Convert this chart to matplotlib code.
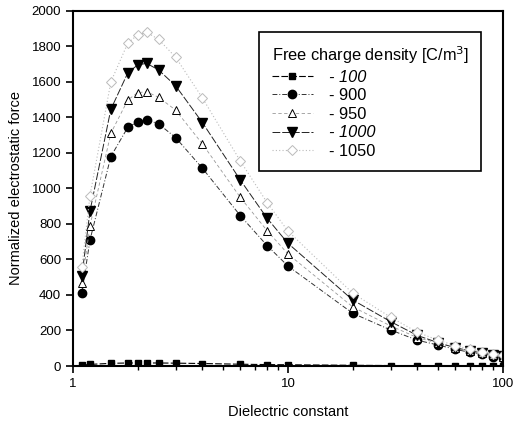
import matplotlib
matplotlib.use("Agg")
import matplotlib.pyplot as plt
from matplotlib.ticker import LogLocator, NullFormatter

plt.rcParams['font.family'] = ['Liberation Sans', 'DejaVu Sans']

eps = [1.1, 1.2, 1.5, 1.8, 2.0, 2.2, 2.5, 3, 4, 6, 8, 10, 20, 30, 40, 50, 60, 70, 80, 90, 100]
f100 = [5, 9, 15, 17, 17, 17, 17, 16, 14, 10, 8, 7, 4, 2.5, 2, 1.5, 1.2, 1, 0.8, 0.7, 0.6]
f900 = [413, 710, 1180, 1345, 1375, 1388, 1364, 1287, 1114, 847, 678, 563, 297, 203, 145, 118, 94, 77, 66, 53, 45]
f950 = [466, 790, 1311, 1499, 1540, 1545, 1514, 1442, 1251, 950, 762, 631, 333, 226, 160, 128, 104, 86, 73, 60, 50]
f1000 = [507, 873, 1446, 1652, 1696, 1705, 1668, 1579, 1371, 1048, 832, 691, 372, 250, 172, 131, 103, 86, 73, 62, 55]
f1050 = [560, 960, 1600, 1820, 1865, 1880, 1840, 1740, 1510, 1155, 920, 760, 410, 275, 190, 145, 115, 95, 80, 68, 60]
labels = ['- 100', '- 900', '- 950', '- 1000', '- 1050']
italic_labels = {'- 100', '- 1000'}

fig = plt.figure(figsize=(5.15, 4.22), dpi=100)
ax = fig.add_axes([0.1417, 0.1327, 0.8350, 0.8413])

ax.plot(eps, f100, color='black', ls=(0, (6, 2)), lw=0.8, marker='s', ms=5,
        mfc='black', mec='black', label=labels[0])
ax.plot(eps, f900, color='#333333', ls=(0, (5, 2, 1, 2)), lw=0.7, marker='o', ms=6,
        mfc='black', mec='black', label=labels[1])
ax.plot(eps, f950, color='#999999', ls=(0, (4, 3)), lw=0.6, marker='^', ms=6,
        mfc='white', mec='black', mew=0.7, label=labels[2])
ax.plot(eps, f1000, color='#222222', ls=(0, (8, 2)), lw=0.7, marker='v', ms=7,
        mfc='black', mec='black', label=labels[3])
ax.plot(eps, f1050, color='#bbbbbb', ls=(0, (1, 2)), lw=0.8, marker='D', ms=5,
        mfc='white', mec='#bbbbbb', mew=0.7, label=labels[4])

ax.set_xscale('log')
ax.set_xlim(1, 100)
ax.set_ylim(0, 2000)
ax.set_xticks([1, 10, 100])
ax.set_xticklabels(['1', '10', '100'])
ax.xaxis.set_minor_locator(LogLocator(base=10, subs=range(2, 10)))
ax.xaxis.set_minor_formatter(NullFormatter())
ax.set_yticks(range(0, 2001, 200))

ax.tick_params(axis='both', which='major', direction='out', length=5, width=1.2,
               labelsize=9.5, colors='black')
ax.tick_params(axis='x', which='minor', direction='out', length=3, width=1)
for s in ax.spines.values():
    s.set_linewidth(1.5)

ax.set_xlabel('Dielectric constant', fontsize=10.5, labelpad=11)
ax.set_ylabel('Normalized electrostatic force', fontsize=10.5, labelpad=6)

leg = ax.legend(title='Free charge density [C/m$^3$]', loc='upper right',
                bbox_to_anchor=(0.949, 0.941), borderaxespad=0,
                fontsize=11.8, title_fontsize=11.8,
                frameon=True, fancybox=False, edgecolor='black', framealpha=1,
                handlelength=2.5, labelspacing=0.22, borderpad=0.75, handletextpad=1.0)
leg.get_frame().set_linewidth(1.2)
leg._legend_box.align = 'left'
for t in leg.get_texts():
    if t.get_text() in italic_labels:
        t.set_fontstyle('italic')

fig.savefig('out.png', dpi=100)
